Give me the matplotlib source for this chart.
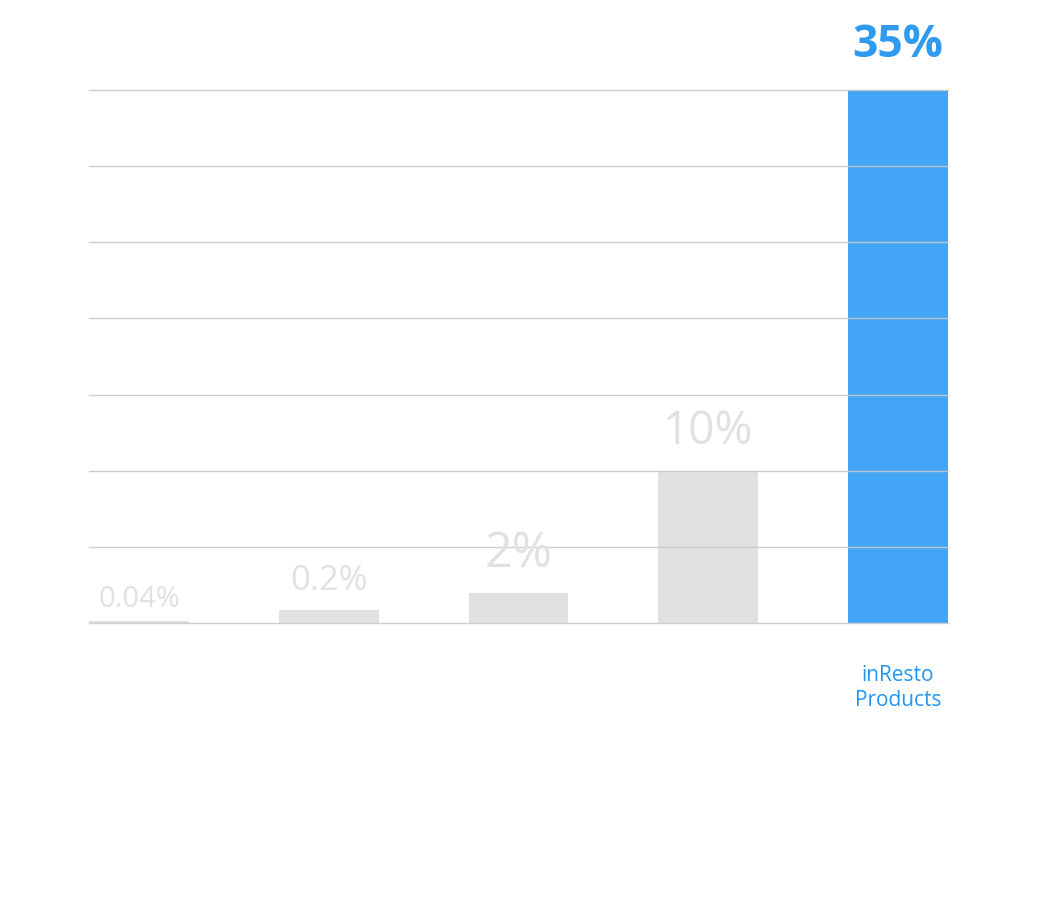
import numpy as np
import matplotlib.pyplot as plt

# data
categories = ["", "", "", "", "inResto\nProducts"]
bar_heights = [0.13, 0.85, 1.97, 10, 35]
value_labels = ["0.04%", "0.2%", "2%", "10%", "35%"]

label_sizes = [21, 25, 35, 33, 32]
label_offsets = [5, 9, 10, 11, 16]
grey = "#e1e1e1"
blue = "#42a5f5"

plt.rcParams["font.family"] = ["Open Sans", "DejaVu Sans"]

fig = plt.figure(figsize=(10.5, 9), dpi=100)
ax = fig.add_axes([89 / 1050, 277 / 900, (948 - 89) / 1050, (623 - 90) / 900])

x = np.arange(len(bar_heights))
width = 0.527
colors = [grey] * 4 + [blue]
ax.bar(x, bar_heights, width=width, color=colors, zorder=1)

# grid drawn over the bars
for yv in np.arange(0, 36, 5):
    ax.axhline(yv, color="#c8c8c8", linewidth=1, zorder=2, alpha=0.9, clip_on=False)

for i, (h, lab) in enumerate(zip(bar_heights, value_labels)):
    last = i == len(bar_heights) - 1
    ax.annotate(
        lab,
        (x[i], h),
        xytext=(0, label_offsets[i]),
        textcoords="offset points",
        ha="center",
        va="bottom",
        fontsize=label_sizes[i],
        color="#2f9bf0" if last else grey,
        fontweight="bold" if last else "normal",
        zorder=3,
    )

ax.set_xlim(-width / 2, 4 + width / 2)
ax.set_ylim(0, 35)
ax.set_xticks(x)
ax.set_xticklabels(categories, fontsize=15, color="#2196f3", linespacing=1.3)
ax.tick_params(axis="x", length=0, pad=30)
ax.set_yticks([])
for s in ax.spines.values():
    s.set_visible(False)

fig.savefig("out.png", dpi=100, facecolor="white")
